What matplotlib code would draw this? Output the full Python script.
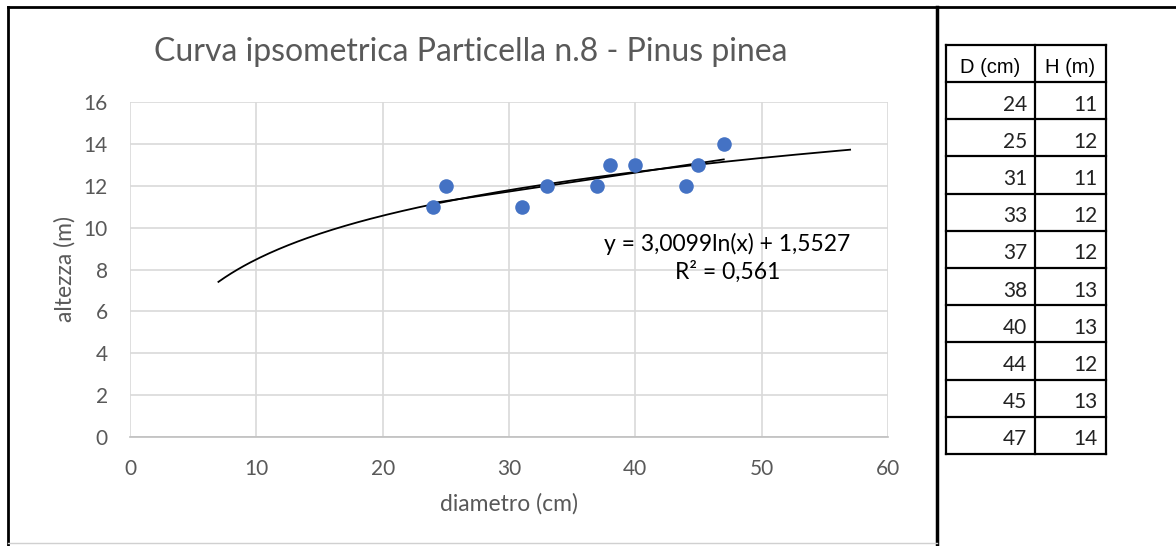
import matplotlib
matplotlib.use("Agg")
import matplotlib.pyplot as plt
import numpy as np

# diameter (cm) and height (m) of the sampled trees
diametro = [24, 25, 31, 33, 37, 38, 40, 44, 45, 47]
altezza = [11, 12, 11, 12, 12, 13, 13, 12, 13, 14]

# logarithmic trendline as reported on the chart
coef_a = 3.0099
coef_b = 1.5527
r2 = 0.561
trend_range = [7, 57]

x_ticks = [0, 10, 20, 30, 40, 50, 60]
y_ticks = [0, 2, 4, 6, 8, 10, 12, 14, 16]

col_headers = ["D (cm)", "H (m)"]

W, H = 1176, 546
fig = plt.figure(figsize=(W / 100, H / 100), dpi=100)
fig.patch.set_facecolor("white")

grey = "#595959"
grid = "#d9d9d9"
font = "Lato"

# scatter plot
ax = fig.add_axes([130 / W, 1 - 437 / H, 758 / W, 335 / H])
ax.set_xlim(0, 60)
ax.set_ylim(0, 16)
ax.set_xticks(x_ticks)
ax.set_yticks(y_ticks)
ax.grid(True, color=grid, lw=1.2)
ax.set_axisbelow(True)
for s in ["top", "right", "left"]:
    ax.spines[s].set_visible(False)
ax.spines["bottom"].set_color("#bfbfbf")
ax.spines["bottom"].set_linewidth(1.2)
ax.tick_params(axis="x", length=0, labelsize=15, labelcolor=grey, pad=16)
ax.tick_params(axis="y", length=0, labelsize=15, labelcolor=grey, pad=16)
for lab in ax.get_xticklabels() + ax.get_yticklabels():
    lab.set_family(font)

xs = np.linspace(trend_range[0], trend_range[1], 200)
ax.plot(xs, coef_a * np.log(xs) + coef_b, color="black", lw=1.3, zorder=3)

# straight fit over the data range
k, q = np.polyfit(diametro, altezza, 1)
xl = np.array([min(diametro), max(diametro)])
ax.plot(xl, k * xl + q, color="black", lw=1.3, zorder=3)

ax.scatter(diametro, altezza, s=110, color="#4472c4", zorder=4, linewidths=0)

eq = "y = %sln(x) + %s" % (("%.4f" % coef_a).replace(".", ","),
                           ("%.4f" % coef_b).replace(".", ","))
ax.text(47.3, 9.2, eq, ha="center", va="center", fontsize=16.5,
        family=font, color="black")
ax.text(47.3, 7.9, "R² = " + ("%.3f" % r2).replace(".", ","), ha="center",
        va="center", fontsize=16.5, family=font, color="black")

ax.set_xlabel("diametro (cm)", fontsize=16.5, color=grey, family=font, labelpad=10)
ax.set_ylabel("altezza (m)", fontsize=16.5, color=grey, family=font, labelpad=6)
fig.text(471 / W, 1 - 52 / H, "Curva ipsometrica Particella n.8 - Pinus pinea",
         ha="center", va="center", fontsize=23, color=grey, family=font)

# overlay in pixel coordinates for frame and data table
ov = fig.add_axes([0, 0, 1, 1], facecolor="none")
ov.set_xlim(0, W)
ov.set_ylim(H, 0)
ov.axis("off")

ov.plot([8, 8], [7, H], color="black", lw=2)
ov.plot([8, W], [7, 7], color="black", lw=2)
ov.plot([937, 937], [7, H], color="black", lw=2.5)
ov.plot([8, 937], [543, 543], color="#d0d0d0", lw=1)

tx0, tx1, tx2 = 946, 1035, 1106
ty0 = 45
head_h = 37
row_h = 37.2
n = len(diametro)
tbot = ty0 + head_h + n * row_h

for xv in [tx0, tx1, tx2]:
    ov.plot([xv, xv], [ty0, tbot], color="black", lw=1.6)
ov.plot([tx0, tx2], [ty0, ty0], color="black", lw=1.6)
for i in range(n + 1):
    yv = ty0 + head_h + i * row_h
    ov.plot([tx0, tx2], [yv, yv], color="black", lw=1.6)

ov.text((tx0 + tx1) / 2, ty0 + head_h / 2 + 4, col_headers[0], ha="center",
        va="center", fontsize=14.5, family="Liberation Sans")
ov.text((tx1 + tx2) / 2, ty0 + head_h / 2 + 4, col_headers[1], ha="center",
        va="center", fontsize=14.5, family="Liberation Sans")
for i in range(n):
    yc = ty0 + head_h + (i + 0.5) * row_h + 4
    ov.text(tx1 - 8, yc, str(diametro[i]), ha="right", va="center",
            fontsize=15, family=font, color="#222222")
    ov.text(tx2 - 8, yc, str(altezza[i]), ha="right", va="center",
            fontsize=15, family=font, color="#222222")

fig.savefig("out.png", dpi=100)
